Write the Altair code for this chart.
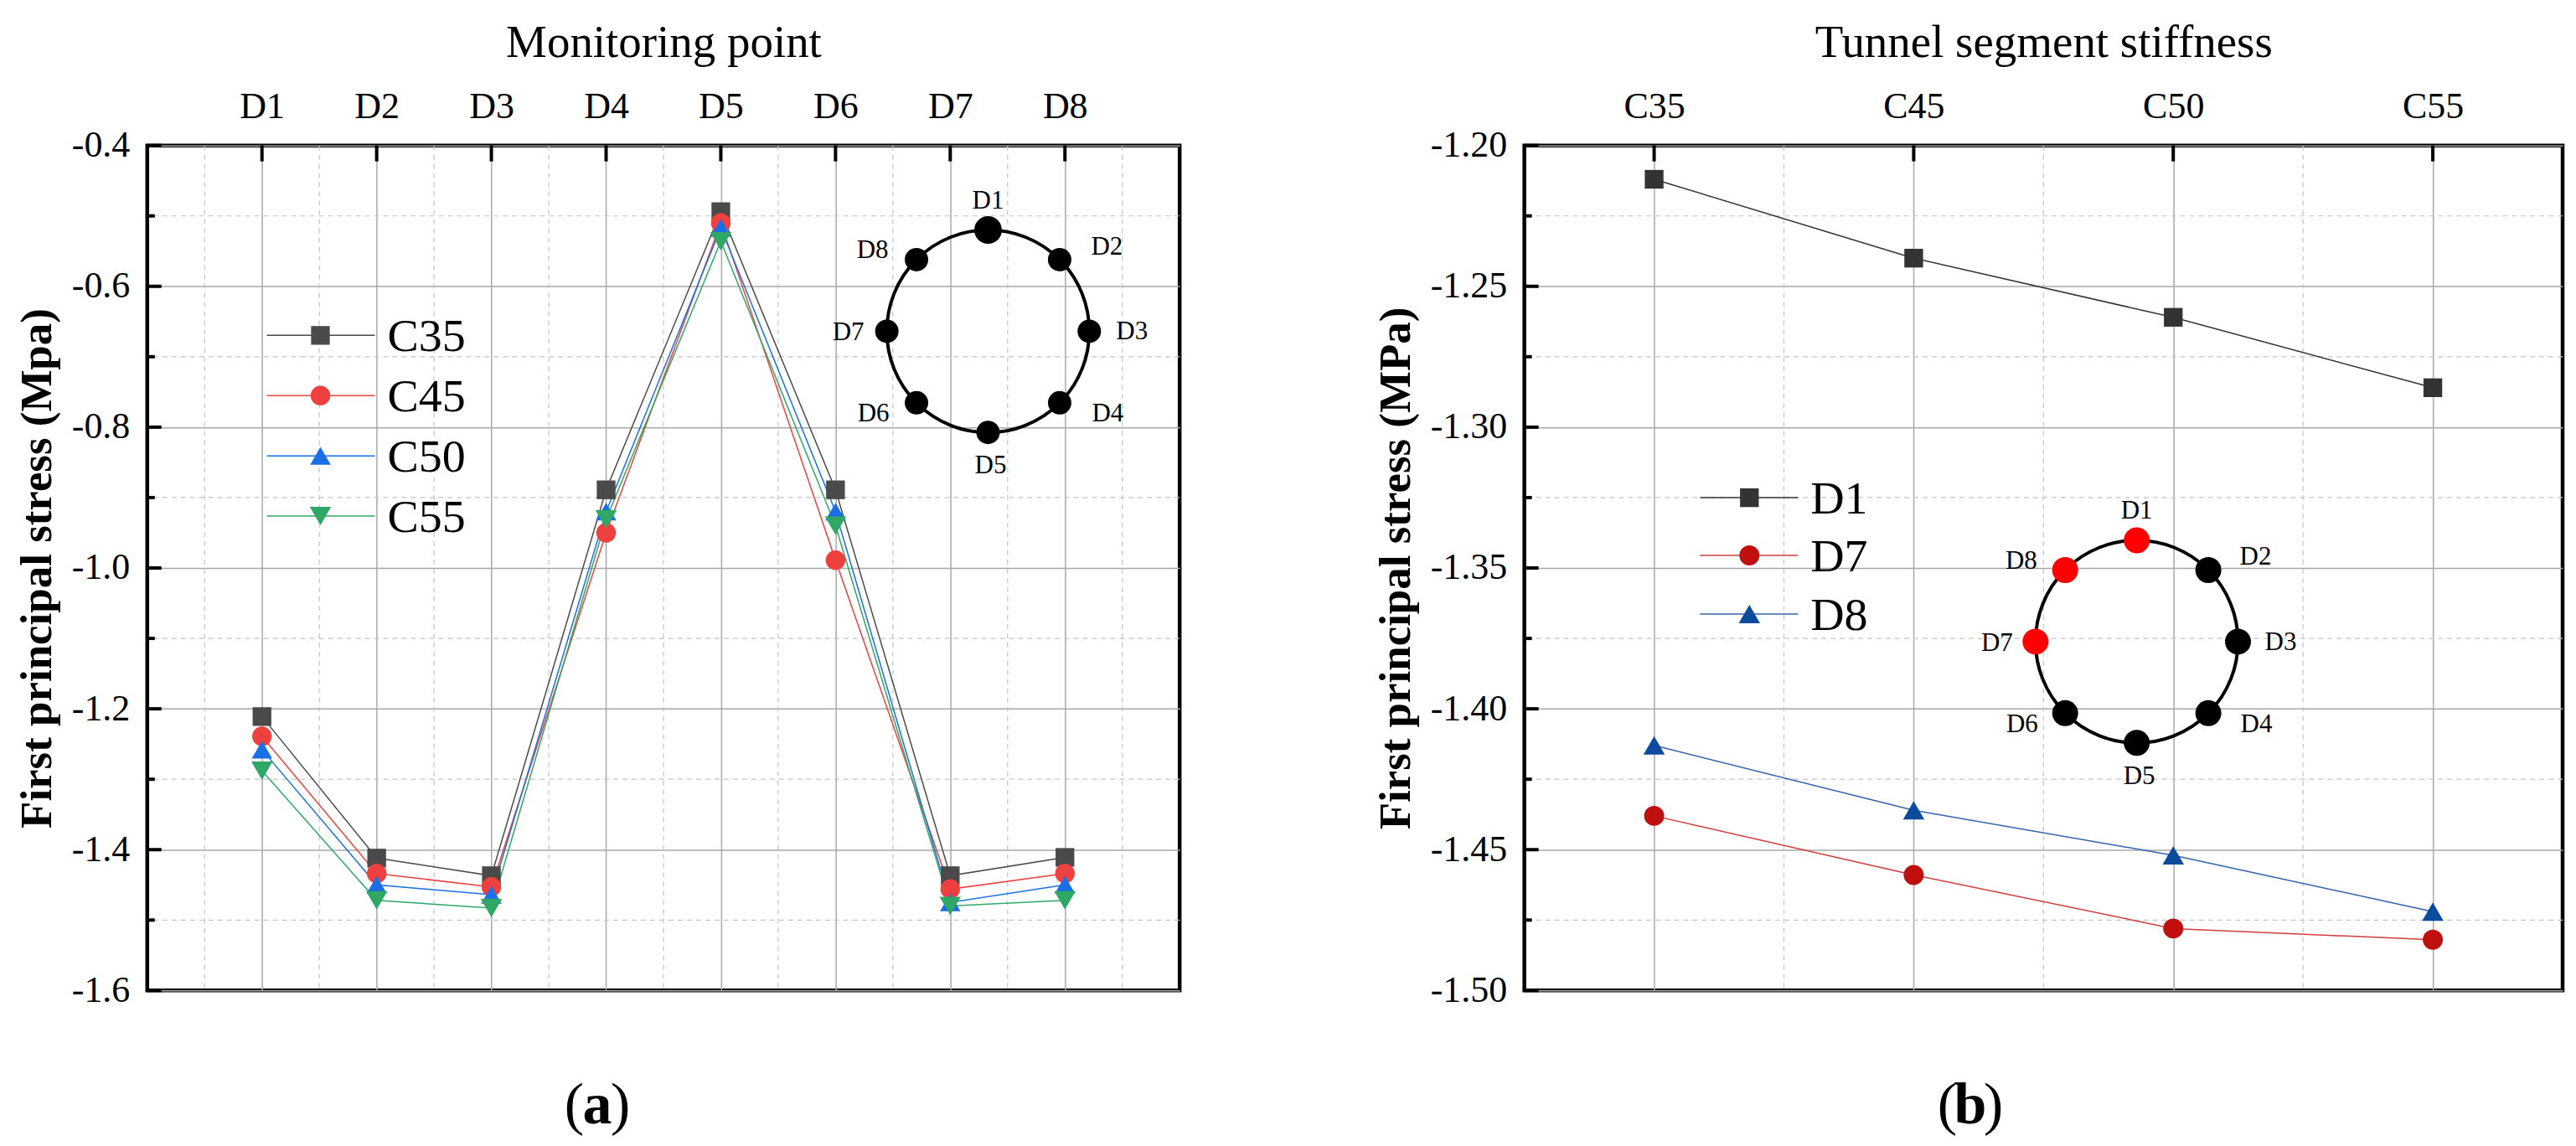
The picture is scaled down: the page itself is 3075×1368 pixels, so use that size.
import altair as alt
import numpy as np
import pandas as pd

FONT = "Times New Roman, Liberation Serif, serif"

# ---------------- panel (a) data ----------------
points_a = ["D1", "D2", "D3", "D4", "D5", "D6", "D7", "D8"]
grades = ["C35", "C45", "C50", "C55"]
stress_c35 = [-1.211, -1.412, -1.437, -0.889, -0.494, -0.889, -1.437, -1.411]
stress_c45 = [-1.239, -1.434, -1.453, -0.950, -0.510, -0.989, -1.456, -1.434]
stress_c50 = [-1.258, -1.450, -1.464, -0.920, -0.517, -0.920, -1.475, -1.450]
stress_c55 = [-1.288, -1.472, -1.483, -0.931, -0.536, -0.940, -1.480, -1.472]
colors_a = ["#4a4a4a", "#ef4040", "#1a6ee6", "#2fa866"]
shapes_a = ["square", "circle", "triangle-up", "triangle-down"]
sizes_a = [500, 650, 900, 900]

# ---------------- panel (b) data ----------------
grades_b = ["C35", "C45", "C50", "C55"]
series_b = ["D1", "D7", "D8"]
stress_d1 = [-1.212, -1.240, -1.261, -1.286]
stress_d7 = [-1.438, -1.459, -1.478, -1.482]
stress_d8 = [-1.413, -1.436, -1.452, -1.472]
line_colors_b = ["#333333", "#d03c3c", "#3561ae"]
marker_colors_b = ["#333333", "#c00f0f", "#0c4a9c"]
shapes_b = ["square", "circle", "triangle-up"]
sizes_b = [500, 650, 1000]

# ---------------- inset (ring of monitoring points) ----------------
inset_names = ["D1", "D2", "D3", "D4", "D5", "D6", "D7", "D8"]
inset_angles = [90, 45, 0, -45, -90, -135, 180, 135]
inset_label_off = [(0, -156), (142, -101), (172, 1), (143, 99),
                   (3, 161), (-137, 99), (-167, 2), (-138, -96)]
highlight_b = ["D1", "D7", "D8"]

# ---------------- geometry ----------------
W_A, H_A = 1234, 1010
W_B, H_B = 1241, 1010
XA, YA = [0, 9], [-1.6, -0.4]
XB, YB = [-0.5, 3.5], [-1.5, -1.2]


def conv(xdom, ydom, W, H):
    fx = lambda px: xdom[0] + px / W * (xdom[1] - xdom[0])
    fy = lambda py: ydom[1] - py / H * (ydom[1] - ydom[0])
    return fx, fy


def panel(df, series, line_colors, marker_colors, shapes, sizes,
          xdom, ydom, W, H, xvals, xlabelexpr, xtitle,
          yvals, yminor, ylabelexpr, ytitle, xminor,
          leg_rows_y, leg_x, inset_c, inset_colors, inset_sizes,
          letter, letter_pos):
    fx, fy = conv(xdom, ydom, W, H)
    xs = alt.Scale(domain=xdom, nice=False, zero=False)
    ys = alt.Scale(domain=ydom, nice=False, zero=False)
    cscale = alt.Scale(domain=series, range=line_colors)
    fscale = alt.Scale(domain=series, range=marker_colors)
    sscale = alt.Scale(domain=series, range=shapes)
    zscale = alt.Scale(domain=series, range=sizes)

    xaxis = alt.Axis(orient="top", values=xvals, labelExpr=xlabelexpr, title=xtitle,
                     ticks=False, domain=False, grid=True, gridColor="#a8a8a8", gridWidth=1.5,
                     labelFont=FONT, labelFontSize=44, labelPadding=24, labelColor="black",
                     labelFlush=False, labelOverlap=False,
                     titleFont=FONT, titleFontSize=55, titleFontWeight="normal",
                     titlePadding=26, titleColor="black")
    yaxis = alt.Axis(orient="left", values=yvals, labelExpr=ylabelexpr, title=ytitle,
                     ticks=False, domain=False, grid=True, gridColor="#a8a8a8", gridWidth=1.5,
                     labelFont=FONT, labelFontSize=44, labelPadding=21, labelColor="black",
                     labelFlush=False, labelOverlap=False,
                     titleFont=FONT, titleFontSize=53, titleFontWeight="bold",
                     titlePadding=14, titleColor="black")

    X = lambda f: alt.X(f, scale=xs, axis=xaxis)
    Y = lambda f: alt.Y(f, scale=ys, axis=yaxis)

    # minor gridlines
    gx = alt.Chart(pd.DataFrame({"v": xminor})).mark_rule(
        color="#c4c4c4", strokeWidth=1.2, strokeDash=[6, 5]).encode(x=X("v:Q"))
    gy = alt.Chart(pd.DataFrame({"v": yminor})).mark_rule(
        color="#c4c4c4", strokeWidth=1.2, strokeDash=[6, 5]).encode(y=Y("v:Q"))
    # inward ticks
    tmaj_y = alt.Chart(pd.DataFrame({"v": yvals})).mark_rule(color="black", strokeWidth=4).encode(
        y=Y("v:Q"), x=alt.value(0), x2=alt.value(17))
    tmin_y = alt.Chart(pd.DataFrame({"v": yminor})).mark_rule(color="black", strokeWidth=4).encode(
        y=Y("v:Q"), x=alt.value(0), x2=alt.value(9))
    tmaj_x = alt.Chart(pd.DataFrame({"v": xvals})).mark_rule(color="black", strokeWidth=4).encode(
        x=X("v:Q"), y=alt.value(0), y2=alt.value(19))

    lines = alt.Chart(df).mark_line(strokeWidth=1.5).encode(
        x=X("x:Q"), y=Y("y:Q"),
        color=alt.Color("s:N", scale=cscale, legend=None),
    )
    pts = alt.Chart(df).mark_point(filled=True, opacity=1, strokeWidth=0).encode(
        x=X("x:Q"), y=Y("y:Q"),
        fill=alt.Fill("s:N", scale=fscale, legend=None),
        shape=alt.Shape("s:N", scale=sscale, legend=None),
        size=alt.Size("s:N", scale=zscale, legend=None),
    )

    # manual legend
    x1, x2, xm, xl = leg_x
    leg = pd.DataFrame({
        "s": series,
        "x1": [fx(x1)] * len(series), "x2": [fx(x2)] * len(series),
        "xm": [fx(xm)] * len(series), "xl": [fx(xl)] * len(series),
        "y": [fy(v) for v in leg_rows_y],
    })
    leg_line = alt.Chart(leg).mark_rule(strokeWidth=1.5).encode(
        x=X("x1:Q"), x2="x2:Q", y=Y("y:Q"),
        color=alt.Color("s:N", scale=cscale, legend=None))
    leg_pt = alt.Chart(leg).mark_point(filled=True, opacity=1, strokeWidth=0).encode(
        x=X("xm:Q"), y=Y("y:Q"),
        fill=alt.Fill("s:N", scale=fscale, legend=None),
        shape=alt.Shape("s:N", scale=sscale, legend=None),
        size=alt.Size("s:N", scale=zscale, legend=None))
    leg_txt = alt.Chart(leg).mark_text(align="left", baseline="middle", font=FONT,
                                       fontSize=56, color="black", dy=2).encode(
        x=X("xl:Q"), y=Y("y:Q"), text="s:N")

    # inset ring
    cx, cy = inset_c
    R = 121
    ring = alt.Chart(pd.DataFrame({"x": [fx(cx)], "y": [fy(cy)]})).mark_point(
        shape="circle", filled=False, size=(2 * R) ** 2, strokeWidth=4, color="black", opacity=1).encode(
        x=X("x:Q"), y=Y("y:Q"))
    dots = pd.DataFrame({
        "n": inset_names,
        "x": [fx(cx + R * np.cos(np.radians(a))) for a in inset_angles],
        "y": [fy(cy - R * np.sin(np.radians(a))) for a in inset_angles],
        "c": inset_colors,
        "z": inset_sizes,
        "lx": [fx(cx + o[0]) for o in inset_label_off],
        "ly": [fy(cy + o[1]) for o in inset_label_off],
    })
    dot = alt.Chart(dots).mark_point(shape="circle", filled=True, opacity=1, strokeWidth=0).encode(
        x=X("x:Q"), y=Y("y:Q"),
        fill=alt.Fill("c:N", scale=None, legend=None),
        size=alt.Size("z:Q", scale=None, legend=None))
    dlab = alt.Chart(dots).mark_text(font=FONT, fontSize=31, color="black",
                                     align="center", baseline="middle").encode(
        x=X("lx:Q"), y=Y("ly:Q"), text="n:N")

    # subplot letter "(a)" with bold letter
    lx, ly = letter_pos
    one = pd.DataFrame({"k": [0]})
    lp = alt.Chart(one).mark_text(text="(", font=FONT, fontSize=70, align="right",
                                  baseline="middle", color="black").encode(
        x=alt.value(lx - 16), y=alt.value(ly))
    lm = alt.Chart(one).mark_text(text=letter, font=FONT, fontSize=70, fontWeight="bold",
                                  align="center", baseline="middle", color="black").encode(
        x=alt.value(lx), y=alt.value(ly))
    lr = alt.Chart(one).mark_text(text=")", font=FONT, fontSize=70, align="left",
                                  baseline="middle", color="black").encode(
        x=alt.value(lx + 16), y=alt.value(ly))

    return alt.layer(gx, gy, lines, pts, tmaj_y, tmin_y, tmaj_x,
                     leg_line, leg_pt, leg_txt, ring, dot, dlab, lp, lm, lr).properties(
        width=W, height=H)


# long-form tables
df_a = pd.DataFrame({
    "x": list(range(1, 9)) * 4,
    "y": stress_c35 + stress_c45 + stress_c50 + stress_c55,
    "s": [g for g in grades for _ in points_a],
})
df_b = pd.DataFrame({
    "x": list(range(4)) * 3,
    "y": stress_d1 + stress_d7 + stress_d8,
    "s": [d for d in series_b for _ in grades_b],
})

yv_a = [round(v, 1) for v in np.arange(-1.6, -0.39, 0.2)]
ym_a = [round(v, 1) for v in np.arange(-1.5, -0.45, 0.2)]
yv_b = [round(v, 2) for v in np.arange(-1.5, -1.19, 0.05)]
ym_b = [round(v, 3) for v in np.arange(-1.475, -1.2, 0.05)]

chart_a = panel(df_a, grades, colors_a, colors_a, shapes_a, sizes_a,
                XA, YA, W_A, H_A, list(range(1, 9)), "'D' + datum.value", "Monitoring point",
                yv_a, ym_a, "'-' + format(abs(datum.value), '.1f')", "First principal stress (Mpa)",
                [v + 0.5 for v in range(9)],
                [227, 299, 371, 443], (143, 272, 207, 287),
                (1005, 222), ["black"] * 8, [1089] + [784] * 7,
                "a", (538, 1148))

lbl_b = "datum.value == 0 ? 'C35' : datum.value == 1 ? 'C45' : datum.value == 2 ? 'C50' : 'C55'"
chart_b = panel(df_b, series_b, line_colors_b, marker_colors_b, shapes_b, sizes_b,
                XB, YB, W_B, H_B, [0, 1, 2, 3], lbl_b, "Tunnel segment stiffness",
                yv_b, ym_b, "'-' + format(abs(datum.value), '.2f')", "First principal stress (MPa)",
                [0.5, 1.5, 2.5],
                [421, 490, 560], (210, 327, 269, 342),
                (732, 593), ["#ff0000" if n in highlight_b else "black" for n in inset_names],
                [961] * 8,
                "b", (533, 1148))

chart = alt.hconcat(chart_a, chart_b, spacing=227).resolve_scale(
    x="independent", y="independent", color="independent", fill="independent",
    shape="independent", size="independent",
).properties(
    padding={"left": 8, "top": 12, "right": 5, "bottom": 5},
    background="white",
).configure_view(stroke="black", strokeWidth=4.5)

chart.save("out.html", embed_options={"renderer": "svg", "actions": False})
